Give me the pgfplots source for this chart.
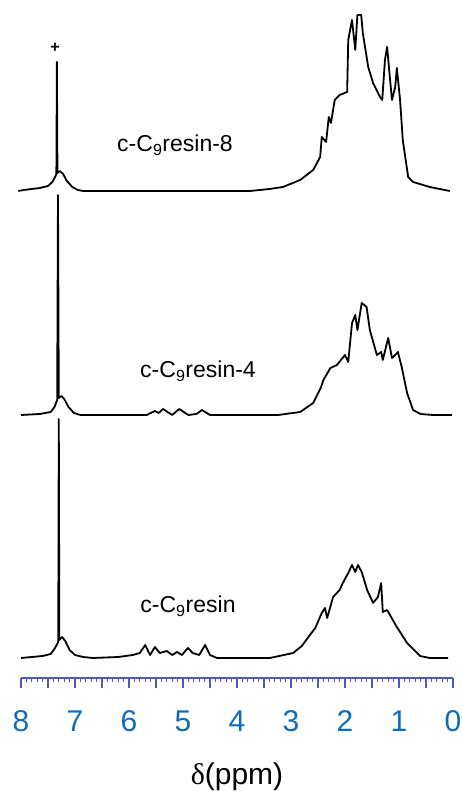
\documentclass[border=0pt]{standalone}
\usepackage{fontspec}
\setmainfont{Liberation Sans}
\newfontfamily\greekserif{Liberation Serif}
\usepackage{pgfplots}
\pgfplotsset{compat=1.18}
\definecolor{axline}{RGB}{80,90,180}
\definecolor{ticklbl}{RGB}{16,108,184}
\tikzset{spec/.style={black, line width=1.8pt, line join=round, sharp plot, mark=none}}

\begin{document}
\begin{tikzpicture}
\begin{axis}[
  scale only axis,
  width=432pt, height=678pt,
  xmin=0, xmax=8, ymin=-20, ymax=658,
  x dir=reverse,
  clip=false,
  axis y line=none,
  axis x line*=bottom,
  x axis line style={-, line width=1.6pt, color=axline},
  xtick={0,0.5,1,1.5,2,2.5,3,3.5,4,4.5,5,5.5,6,6.5,7,7.5,8},
  xticklabels={0,,1,,2,,3,,4,,5,,6,,7,,8},
  minor x tick num=4,
  tick align=outside,
  major tick length=10pt, minor tick length=4pt,
  every tick/.style={color=axline, line width=1.2pt},
  xticklabel style={font=\fontsize{30}{30}\selectfont, text=ticklbl, yshift=-19pt},
  xlabel={{\greekserif δ}(ppm)},
  xlabel style={font=\fontsize{30}{30}\selectfont, text=black, yshift=-24pt},
]
% c-C9resin (offset 0)
\addplot[spec] coordinates {
 (8.00,0) (7.80,1) (7.60,2) (7.45,4) (7.37,10) (7.31,16) (7.30,239) (7.29,18)
 (7.24,21) (7.18,17) (7.10,8) (7.00,3) (6.85,1) (6.67,0) (6.20,1) (5.93,3)
 (5.80,5) (5.70,13) (5.61,3) (5.52,11) (5.43,5) (5.30,7) (5.20,3) (5.11,6)
 (5.02,3) (4.91,10) (4.82,5) (4.70,3) (4.59,13) (4.50,3) (4.37,0) (3.39,0)
 (2.96,5) (2.80,12) (2.65,23) (2.55,30) (2.43,45) (2.37,50) (2.33,40) (2.22,61)
 (2.10,68) (2.04,75) (1.94,85) (1.87,93) (1.81,86) (1.76,93) (1.69,86) (1.59,68)
 (1.48,55) (1.39,61) (1.33,75) (1.30,46) (1.22,48) (1.04,31) (0.85,15) (0.61,2)
 (0.43,0) (0.09,0)
};
% c-C9resin-4 (offset 243)
\addplot[spec] coordinates {
 (8.00,243) (7.65,244) (7.45,246) (7.38,251) (7.33,258) (7.315,463) (7.30,260)
 (7.25,262) (7.20,259) (7.12,251) (7.02,245) (6.90,243) (5.67,243) (5.60,245)
 (5.52,247) (5.45,245) (5.37,249) (5.20,243) (5.07,249) (4.90,243) (4.75,244)
 (4.65,248) (4.50,243) (3.24,243) (2.83,246) (2.59,255) (2.45,270) (2.40,278)
 (2.27,290) (2.15,293) (2.00,303) (1.94,296) (1.87,335) (1.81,343) (1.77,328)
 (1.69,355) (1.60,351) (1.54,328) (1.41,303) (1.33,306) (1.30,298) (1.20,320)
 (1.13,300) (1.07,303) (1.02,306) (0.95,291) (0.85,265) (0.74,248) (0.60,244)
 (0.37,243) (0.02,243)
};
% c-C9resin-8 (offset 467)
\addplot[spec] coordinates {
 (8.05,467) (7.95,468) (7.80,469) (7.65,470) (7.50,472) (7.42,476) (7.36,482)
 (7.345,484) (7.335,596) (7.325,485) (7.28,487) (7.22,484) (7.15,477) (7.05,471)
 (6.95,468) (6.85,467) (3.76,467) (3.40,469) (3.15,471) (2.83,478) (2.59,488)
 (2.46,501) (2.43,521) (2.35,516) (2.30,541) (2.26,535) (2.19,558) (2.10,563)
 (1.96,566) (1.94,618) (1.87,638) (1.81,608) (1.77,643) (1.70,643) (1.67,625)
 (1.57,591) (1.48,575) (1.35,561) (1.31,558) (1.26,598) (1.22,611) (1.17,581)
 (1.13,558) (1.07,571) (1.04,590) (0.98,558) (0.93,518) (0.83,481) (0.74,476)
 (0.43,471) (0.06,467)
};
\node[anchor=base, font=\fontsize{23}{23}\selectfont] at (axis cs:5.148,506) {c-C\textsubscript{9}resin-8};
\node[anchor=base, font=\fontsize{23}{23}\selectfont] at (axis cs:4.722,280) {c-C\textsubscript{9}resin-4};
\node[anchor=base, font=\fontsize{23}{23}\selectfont] at (axis cs:4.907,45) {c-C\textsubscript{9}resin};
\node[font=\fontsize{16}{16}\selectfont\bfseries] at (axis cs:7.37,610) {+};
\coordinate (bbtl) at (axis cs:8.3889,658);
\coordinate (bbbr) at (axis cs:-0.185,-133);
\end{axis}
\pgfresetboundingbox
\useasboundingbox (bbtl) rectangle (bbbr);
\end{tikzpicture}
\end{document}
